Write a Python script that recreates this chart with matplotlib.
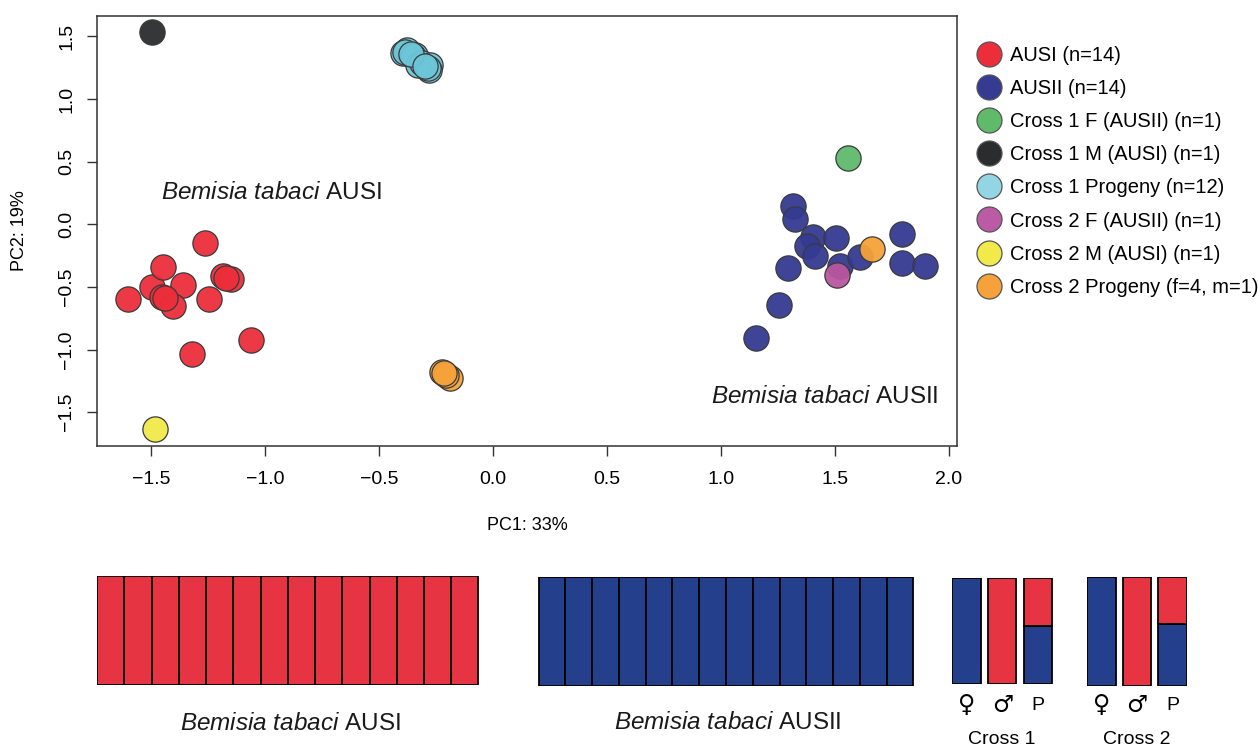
import numpy as np
import matplotlib
matplotlib.use("Agg")
import matplotlib.pyplot as plt
from matplotlib.lines import Line2D
from matplotlib.colors import to_rgba
from matplotlib.transforms import blended_transform_factory

plt.rcParams['font.family'] = ['Liberation Sans', 'DejaVu Sans']
plt.rcParams['mathtext.fontset'] = 'custom'
plt.rcParams['mathtext.rm'] = 'Liberation Sans'
plt.rcParams['mathtext.it'] = 'Liberation Sans:italic'

# PCA scores (PC1, PC2) per group
ausi_x = [-1.60, -1.497, -1.446, -1.358, -1.453, -1.405, -1.244, -1.183, -1.149, -1.321, -1.06, -1.263, -1.44, -1.17]
ausi_y = [-0.60, -0.498, -0.338, -0.484, -0.578, -0.652, -0.596, -0.41, -0.437, -1.037, -0.923, -0.152, -0.59, -0.43]
ausii_x = [1.314, 1.323, 1.405, 1.376, 1.414, 1.504, 1.295, 1.522, 1.610, 1.794, 1.794, 1.895, 1.254, 1.152]
ausii_y = [0.146, 0.042, -0.099, -0.173, -0.253, -0.112, -0.349, -0.333, -0.258, -0.077, -0.311, -0.333, -0.644, -0.910]
c1f_x, c1f_y = [1.558], [0.529]
c1m_x, c1m_y = [-1.497], [1.537]
c1p_x = [-0.393, -0.379, -0.385, -0.342, -0.35, -0.328, -0.31, -0.276, -0.279, -0.285, -0.36, -0.30]
c1p_y = [1.365, 1.391, 1.378, 1.351, 1.34, 1.271, 1.29, 1.271, 1.231, 1.25, 1.36, 1.26]
c2f_x, c2f_y = [1.507], [-0.405]
c2m_x, c2m_y = [-1.484], [-1.636]
c2p_x = [-0.222, -0.189, -0.205, -0.215, 1.661]
c2p_y = [-1.181, -1.229, -1.20, -1.19, -0.20]

groups = [
    (ausi_x, ausi_y, '#ec2e3b', 'AUSI (n=14)'),
    (ausii_x, ausii_y, '#353a92', 'AUSII (n=14)'),
    (c1f_x, c1f_y, '#5fba6b', 'Cross 1 F (AUSII) (n=1)'),
    (c1m_x, c1m_y, '#2a2c2e', 'Cross 1 M (AUSI) (n=1)'),
    (c1p_x, c1p_y, '#6cc6d8', 'Cross 1 Progeny (n=12)'),
    (c2f_x, c2f_y, '#b9569f', 'Cross 2 F (AUSII) (n=1)'),
    (c2m_x, c2m_y, '#f2e94a', 'Cross 2 M (AUSI) (n=1)'),
    (c2p_x, c2p_y, '#f5a23a', 'Cross 2 Progeny (f=4, m=1)'),
]
legend_colors = ['#ec2e3b', '#353a92', '#5fba6b', '#2a2c2e', '#93d5e3', '#bb5aa5', '#f2ea4a', '#f5a23c']

# admixture proportions (AUSI ancestry fraction)
ausi_q = [1.0] * 14
ausii_q = [0.0] * 14
cross1_q = [0.0, 1.0, 0.45]
cross2_q = [0.0, 1.0, 0.43]
cross_ticks = ['\u2640', '\u2642', 'P']

RED = '#e73443'
BLUE = '#243f8c'

W, H = 1258, 748
fig = plt.figure(figsize=(12.58, 7.48), dpi=100)

def box(l, t, r, b):
    return [l / W, 1 - b / H, (r - l) / W, (b - t) / H]

ax = fig.add_axes(box(97, 16, 957, 445.7))
for gx, gy, col, lab in groups:
    ax.scatter(gx, gy, s=330, facecolor=to_rgba(col, 0.95), edgecolor='#3a3a3a', linewidth=0.9, zorder=3)
ax.set_xlim(-1.737, 2.035)
ax.set_ylim(-1.767, 1.662)
ax.set_xticks([-1.5, -1.0, -0.5, 0.0, 0.5, 1.0, 1.5, 2.0])
ax.set_yticks([-1.5, -1.0, -0.5, 0.0, 0.5, 1.0, 1.5])
ax.tick_params(length=7.5, width=1, color='#333333', labelsize=14)
ax.tick_params(axis='x', pad=11)
ax.tick_params(axis='y', pad=8)
for lab in ax.get_yticklabels():
    lab.set_rotation(90)
    lab.set_va('center')
for sp in ax.spines.values():
    sp.set_color('#333333')
    sp.set_linewidth(1.1)

ax.text(-1.456, 0.25, r'$\it{Bemisia\ tabaci}$ AUSI', fontsize=17.5, ha='left', va='center', color='#1a1a1a')
ax.text(1.952, -1.376, r'$\it{Bemisia\ tabaci}$ AUSII', fontsize=17.5, ha='right', va='center', color='#1a1a1a')

fig.text(527 / W, 1 - 526 / H, 'PC1: 33%', fontsize=13, ha='center', va='center')
fig.text(20 / W, 1 - 231 / H, 'PC2: 19%', fontsize=13, ha='center', va='center', rotation=90)

handles = [Line2D([], [], linestyle='none', marker='o', markersize=18, markerfacecolor=c,
                  markeredgecolor='#555555', markeredgewidth=0.9) for c in legend_colors]
fig.legend(handles, [g[3] for g in groups], loc='upper left', bbox_to_anchor=(971 / W, 1 - 38 / H),
           frameon=False, fontsize=14.5, handlelength=1.0, handletextpad=0.55, labelspacing=0.7,
           borderaxespad=0)

def bars(rect, q, width):
    a = fig.add_axes(rect)
    xs = np.arange(len(q))
    q = np.array(q)
    a.bar(xs, 1 - q, width=width, color=BLUE, edgecolor='black', linewidth=1.3)
    a.bar(xs, q, bottom=1 - q, width=width, color=RED, edgecolor='black', linewidth=1.3)
    a.set_xlim(-width / 2 - 0.02, len(q) - 1 + width / 2 + 0.02)
    a.set_ylim(0, 1)
    a.axis('off')
    return a

bars(box(96.7, 576, 479, 685.3), ausi_q, 1.0)
bars(box(538, 577, 914, 686), ausii_q, 1.0)
a1 = bars(box(951.7, 578.3, 1052.7, 684), cross1_q, 0.8)
a2 = bars(box(1086.7, 576.7, 1187.3, 686), cross2_q, 0.8)

fig.text(290 / W, 1 - 724 / H, r'$\it{Bemisia\ tabaci}$ AUSI', fontsize=17.5, ha='center', va='center', color='#1a1a1a')
fig.text(728 / W, 1 - 723 / H, r'$\it{Bemisia\ tabaci}$ AUSII', fontsize=17.5, ha='center', va='center', color='#1a1a1a')

label_y = 1 - 705 / H
name_y = 1 - 740 / H
for a, name in [(a1, 'Cross 1'), (a2, 'Cross 2')]:
    tr = blended_transform_factory(a.transData, fig.transFigure)
    for i, t in enumerate(cross_ticks):
        if t == 'P':
            a.text(i, label_y, t, ha='center', va='center', fontsize=14, transform=tr, clip_on=False)
        else:
            a.text(i, label_y, t, ha='center', va='center', fontsize=17, fontweight='bold',
                   family=['DejaVu Sans'], transform=tr, clip_on=False)
    a.text(1, name_y, name, ha='center', va='center', fontsize=14, transform=tr, clip_on=False)

fig.savefig('out.png', dpi=100)
